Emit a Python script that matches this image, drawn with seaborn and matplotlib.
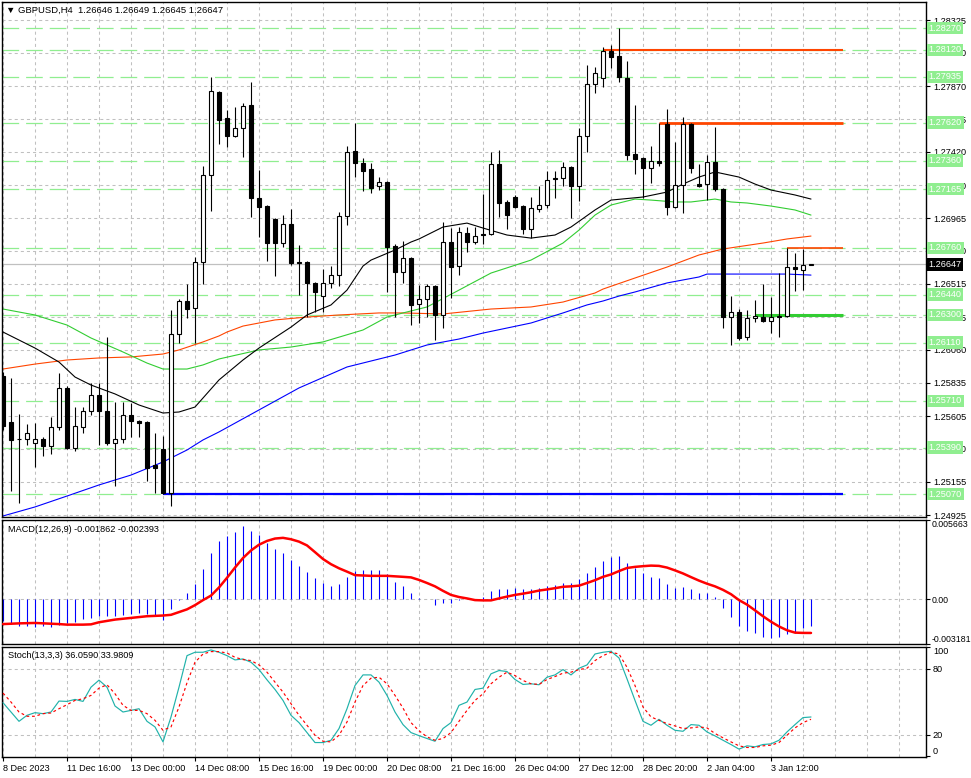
import numpy as np
import pandas as pd
import matplotlib
matplotlib.use("Agg")
import matplotlib.pyplot as plt
import matplotlib.transforms as mtransforms
import seaborn as sns

# ---------------- data ----------------
open_ = [1.25881,1.25565,1.25449,1.25449,1.25421,1.25449,1.25401,1.25531,1.25799,1.25387,
         1.25531,1.25641,1.25751,1.25641,1.25421,1.25449,1.25613,1.25572,1.25565,1.25270,
         1.25380,1.25075,1.26169,1.26396,1.26348,1.26664,1.27261,1.27831,1.27652,1.27529,
         1.27584,1.27741,1.27103,1.27048,1.26959,1.26794,1.26925,1.26664,1.26664,1.26520,
         1.26430,1.26520,1.26574,1.26979,1.27426,1.27343,1.27302,1.27185,1.27213,1.26774,
         1.26595,1.26691,1.26375,1.26410,1.26499,1.26300,1.26801,1.26636,1.26863,1.26801,
         1.26856,1.26856,1.27336,1.27076,1.27110,1.27048,1.26890,1.27028,1.27055,1.27240,
         1.27240,1.27316,1.27185,1.27529,1.27886,1.27927,1.28112,1.28078,1.27927,1.27405,
         1.27378,1.27309,1.27357,1.27611,1.27041,1.27192,1.27611,1.27199,1.27199,1.27350,
         1.27165,1.26286,1.26320,1.26149,1.26279,1.26286,1.26259,1.26286,1.26293,1.26629,
         1.26609,1.26646]
high_ = [1.25909,1.25867,1.25620,1.25552,1.25559,1.25462,1.25600,1.25904,1.25812,1.25668,
         1.25668,1.25833,1.25833,1.26149,1.25703,1.25703,1.25696,1.25579,1.25570,1.25490,
         1.25469,1.26334,1.26410,1.26513,1.26698,1.27323,1.27934,1.27838,1.27707,1.27728,
         1.27755,1.27899,1.27295,1.27055,1.26965,1.26986,1.27028,1.26780,1.26670,1.26525,
         1.26616,1.26636,1.27007,1.27460,1.27618,1.27378,1.27343,1.27247,1.27220,1.26787,
         1.26808,1.26698,1.26506,1.26513,1.26505,1.26938,1.26897,1.26904,1.26904,1.26904,
         1.27131,1.27419,1.27433,1.27089,1.27124,1.27055,1.27110,1.27185,1.27288,1.27288,
         1.27350,1.27322,1.27584,1.28016,1.28002,1.28140,1.28153,1.28270,1.28044,1.27741,
         1.27385,1.27460,1.27618,1.27714,1.27488,1.27659,1.27620,1.27336,1.27398,1.27590,
         1.27172,1.26430,1.26341,1.26334,1.26403,1.26513,1.26423,1.26588,1.26760,1.26726,
         1.26753,1.26649]
low_ = [1.25510,1.25092,1.25009,1.25407,1.25256,1.25332,1.25346,1.25510,1.25380,1.25366,
        1.25490,1.25613,1.25407,1.25410,1.25126,1.25421,1.25462,1.25462,1.25160,1.25078,
        1.25070,1.24989,1.26108,1.26279,1.26108,1.26513,1.27014,1.27474,1.27453,1.27522,
        1.27385,1.26973,1.26835,1.26671,1.26568,1.26767,1.26643,1.26437,1.26286,1.26320,
        1.26320,1.26485,1.26499,1.26918,1.27247,1.27151,1.27137,1.27158,1.26458,1.26286,
        1.26520,1.26231,1.26245,1.26286,1.26128,1.26211,1.26417,1.26574,1.26732,1.26787,
        1.26787,1.26850,1.26973,1.26890,1.27035,1.26856,1.26828,1.27007,1.27034,1.27103,
        1.27185,1.26966,1.27082,1.27419,1.27824,1.27865,1.27996,1.27899,1.27364,1.27268,
        1.27103,1.27206,1.27323,1.26986,1.27034,1.27000,1.27275,1.27180,1.27089,1.27151,
        1.26211,1.26094,1.26128,1.26128,1.26252,1.26255,1.26176,1.26149,1.26286,1.26467,
        1.26474,1.26645]
close_ = [1.25538,1.25442,1.25447,1.25490,1.25449,1.25401,1.25531,1.25799,1.25387,1.25538,
          1.25641,1.25751,1.25641,1.25421,1.25449,1.25613,1.25572,1.25558,1.25250,1.25250,
          1.25075,1.26169,1.26396,1.26341,1.26664,1.27261,1.27838,1.27639,1.27529,1.27584,
          1.27735,1.27103,1.27041,1.26794,1.26794,1.26925,1.26657,1.26657,1.26520,1.26458,
          1.26520,1.26574,1.26979,1.27419,1.27343,1.27288,1.27172,1.27213,1.26767,1.26595,
          1.26691,1.26369,1.26410,1.26499,1.26300,1.26801,1.26629,1.26870,1.26801,1.26842,
          1.26849,1.27336,1.27069,1.26986,1.27041,1.26890,1.27034,1.27055,1.27227,1.27233,
          1.27316,1.27185,1.27529,1.27886,1.27961,1.28112,1.28071,1.27934,1.27398,1.27371,
          1.27309,1.27357,1.27343,1.27041,1.27192,1.27611,1.27309,1.27185,1.27350,1.27165,
          1.26286,1.26320,1.26142,1.26279,1.26293,1.26259,1.26286,1.26293,1.26629,1.26616,
          1.26643,1.26647]

ma_black_idx = [0,4,7,9,11,14,17,20,22,24,25,27,30,32,36,38,41,43,45,46,49,51,52,55,58,60,63,66,69,71,74,76,80,83,85,87,89,92,94,96,99,101]
ma_black = [1.26183,1.26073,1.25977,1.25874,1.25819,1.25758,1.25682,1.25627,1.25634,1.25668,
            1.25730,1.25854,1.25991,1.26073,1.26217,1.26300,1.26369,1.26471,1.26636,1.26677,
            1.26746,1.26801,1.26822,1.26904,1.26931,1.26897,1.26849,1.26828,1.26849,1.26904,
            1.27021,1.27089,1.27110,1.27144,1.27199,1.27247,1.27282,1.27247,1.27199,1.27158,
            1.27124,1.27096]
ma_green_idx = [0,4,8,11,15,18,20,23,25,27,32,36,40,45,48,50,53,57,61,66,70,72,74,76,79,81,84,86,89,91,93,96,99,101]
ma_green = [1.26341,1.26300,1.26231,1.26142,1.26046,1.25970,1.25929,1.25929,1.25957,1.25998,
            1.26060,1.26080,1.26115,1.26197,1.26286,1.26314,1.26355,1.26471,1.26588,1.26677,
            1.26794,1.26883,1.26986,1.27055,1.27096,1.27089,1.27076,1.27076,1.27096,1.27076,
            1.27069,1.27048,1.27021,1.26986]
ma_orange_idx = [0,4,8,12,16,20,22,25,27,28,30,34,38,42,47,50,55,61,66,70,74,75,79,83,87,90,95,98,101]
ma_orange = [1.25929,1.25963,1.25991,1.26005,1.26012,1.26032,1.26060,1.26115,1.26156,1.26183,
             1.26224,1.26266,1.26286,1.26300,1.26314,1.26314,1.26307,1.26341,1.26355,1.26389,
             1.26451,1.26478,1.26554,1.26629,1.26712,1.26753,1.26794,1.26822,1.26842]
ma_blue_idx = [0,4,8,12,16,20,23,25,27,32,37,43,49,53,57,60,66,70,73,75,77,79,83,87,88,91,95,98,101]
ma_blue = [1.24920,1.24982,1.25057,1.25133,1.25201,1.25291,1.25373,1.25442,1.25497,1.25648,
           1.25799,1.25943,1.26025,1.26094,1.26135,1.26176,1.26245,1.26314,1.26369,1.26396,
           1.26430,1.26458,1.26520,1.26561,1.26581,1.26581,1.26581,1.26581,1.26574]

# horizontal levels (light green dashed) with their price tags
level_prices = [1.28270,1.28120,1.27935,1.27620,1.27360,1.27165,1.26760,1.26440,1.26300,1.26110,1.25710,1.25390,1.25070]
# drawn support/resistance segments
seg_prices = [1.28120, 1.27620, 1.26760, 1.26300, 1.25070]
seg_start = [75, 82, 98, 94, 20]
seg_end = 105
seg_colors = ["#ff4500", "#ff4500", "#ff4500", "#32cd32", "#0000ff"]
seg_widths = [1.5, 2.0, 1.2, 2.2, 1.6]

price_ticks = [1.24925,1.25155,1.25380,1.25605,1.25835,1.26060,1.26285,1.26515,1.26740,
               1.26965,1.27190,1.27420,1.27645,1.27870,1.28100,1.28325]
last_price = 1.26647

macd_hist = [-1.51,-1.76,-1.88,-1.88,-2.00,-1.93,-1.95,-1.83,-1.68,-1.59,
             -1.39,-1.32,-1.20,-1.15,-1.15,-1.10,-1.02,-0.95,-1.02,-1.20,
             -1.44,-0.71,-0.02,0.44,1.10,2.15,3.32,4.15,4.54,4.83,
             5.20,4.90,4.59,4.05,3.59,3.29,2.80,2.39,1.95,1.54,
             1.17,0.93,1.10,1.61,2.02,2.07,2.07,2.07,1.78,1.24,
             0.98,0.44,0.07,0.02,-0.41,-0.29,-0.29,-0.05,0.01,-0.02,
             0.15,0.61,0.76,0.76,0.80,0.76,0.76,0.80,0.93,1.05,
             1.17,1.17,1.46,1.90,2.34,2.71,3.00,3.07,2.63,2.27,
             1.90,1.61,1.54,1.10,0.80,0.88,0.73,0.44,0.44,0.20,
             -0.59,-1.22,-1.88,-2.24,-2.37,-2.68,-2.78,-2.68,-2.49,-2.37,
             -2.07,-1.862]  # x 0.001
macd_sig_idx = [0,2,4,7,8,10,11,12,14,16,18,20,21,23,24,25,26,27,28,29,
                30,31,32,33,34,35,36,37,38,39,40,41,42,43,44,46,48,50,51,52,
                53,54,55,56,57,58,59,60,61,62,63,64,65,66,67,68,69,70,71,72,
                73,74,75,76,77,78,79,80,81,82,83,84,85,86,87,88,89,90,91,92,
                93,94,95,96,97,98,99,100,101]
macd_sig = [-1.76,-1.71,-1.68,-1.76,-1.80,-1.80,-1.78,-1.63,-1.44,-1.32,
            -1.20,-1.15,-1.10,-0.71,-0.41,-0.05,0.27,0.85,1.54,2.27,
            2.95,3.49,3.90,4.17,4.34,4.39,4.29,4.12,3.85,3.37,
            2.88,2.51,2.22,1.98,1.73,1.68,1.68,1.61,1.57,1.39,
            1.17,0.93,0.61,0.32,0.17,0.07,-0.05,-0.07,-0.07,0.07,
            0.20,0.32,0.41,0.51,0.63,0.71,0.80,0.90,0.93,0.98,
            1.17,1.37,1.61,1.78,2.02,2.24,2.32,2.37,2.41,2.39,
            2.27,2.07,1.85,1.59,1.34,1.12,0.93,0.68,0.37,-0.05,
            -0.37,-0.78,-1.20,-1.59,-1.93,-2.20,-2.37,-2.39,-2.393]  # x 0.001
macd_ticks = [-0.003181, 0.0, 0.005663]
macd_tick_labels = ["-0.003181", "0.00", "0.005663"]

stoch_k = [49.1,40.6,32.1,37.6,40.0,39.1,40.6,50.6,50.3,52.1,
           50.3,63.3,69.7,63.3,46.1,40.6,42.1,43.6,32.1,27.0,
           13.3,36.1,63.3,92.1,95.2,95.2,97.3,95.2,92.1,88.2,
           89.1,86.1,79.4,70.0,61.2,51.2,37.6,30.9,21.8,12.7,
           12.7,14.8,25.5,43.6,64.8,74.5,74.5,67.9,55.8,40.6,
           29.1,21.8,19.0,16.4,13.9,25.5,30.9,46.7,49.7,61.2,
           62.4,75.5,78.5,77.6,70.3,65.8,66.4,65.5,72.4,74.5,
           79.4,74.5,80.6,83.6,93.6,95.2,96.1,90.0,70.9,51.2,
           32.1,28.5,33.9,28.5,23.9,23.0,29.1,28.5,22.4,18.8,
           14.8,10.9,6.7,9.7,8.8,10.9,11.5,14.8,22.4,29.1,
           35.5,36.059]
stoch_d = [57.9,49.7,40.6,36.7,36.7,39.1,39.7,43.6,47.3,51.2,
           52.7,55.8,62.4,65.5,57.3,46.7,42.1,42.1,39.1,33.0,
           23.9,27.0,45.2,67.3,86.1,93.6,95.8,95.8,94.5,90.6,
           88.5,87.6,83.6,77.0,67.9,58.8,48.2,37.6,28.5,19.4,
           13.9,13.3,19.4,31.5,49.7,64.8,71.5,72.4,66.4,55.8,
           44.2,30.9,23.5,17.9,14.8,16.4,21.8,32.1,42.1,51.2,
           57.3,66.4,72.4,77.0,73.9,69.4,66.4,65.8,70.3,73.0,
           76.1,77.0,79.4,80.6,87.6,92.1,95.2,93.6,81.5,64.8,
           45.2,36.1,33.0,30.0,27.9,25.5,26.1,27.0,26.1,21.0,
           17.0,13.3,9.7,8.2,8.2,9.7,10.3,12.7,19.4,26.1,
           30.9,33.981]
stoch_ticks = [0, 20, 80, 100]

date_labels = ["8 Dec 2023", "11 Dec 16:00", "13 Dec 00:00", "14 Dec 08:00", "15 Dec 16:00",
               "19 Dec 00:00", "20 Dec 08:00", "21 Dec 16:00", "26 Dec 04:00", "27 Dec 12:00",
               "28 Dec 20:00", "2 Jan 04:00", "3 Jan 12:00"]
date_label_idx = [0, 8, 16, 24, 32, 40, 48, 56, 64, 72, 80, 88, 96]

header_main = "▼ GBPUSD,H4  1.26646 1.26649 1.26645 1.26647"
header_macd = "MACD(12,26,9) -0.001862 -0.002393"
header_stoch = "Stoch(13,3,3) 36.0590 33.9809"

# ---------------- style ----------------
sns.set_style("white")
plt.rcParams["font.family"] = ["Liberation Sans", "DejaVu Sans"]
plt.rcParams["lines.scale_dashes"] = False
FS = 6.6
GRID = dict(color="#c0c0c0", lw=0.75, ls=(0, (2.2, 2.2)))

W, H = 971, 778
fig = plt.figure(figsize=(W / 100, H / 100), dpi=100)
fig.patch.set_facecolor("white")


def rect(top, bottom, left=2, right=926):
    return [left / W, 1 - bottom / H, (right - left) / W, (bottom - top) / H]


ax1 = fig.add_axes(rect(2, 517))
ax2 = fig.add_axes(rect(520, 644), sharex=ax1)
ax3 = fig.add_axes(rect(647, 757), sharex=ax1)

n = len(close_)
xs = np.arange(n)
o = np.array(open_); c = np.array(close_)
hi = np.array(high_); lo = np.array(low_)

for ax in (ax1, ax2, ax3):
    ax.set_facecolor("white")
    for s in ax.spines.values():
        s.set_color("black")
        s.set_linewidth(1.0)
    ax.set_xlim(-0.125, 115.375)
    ax.set_xticks(date_label_idx)
    ax.set_xticks(np.arange(0, 116, 4), minor=True)
    ax.xaxis.grid(True, which="both", **GRID)
    ax.set_axisbelow(True)
    ax.yaxis.tick_right()
    ax.tick_params(axis="y", which="both", right=True, left=False, direction="out",
                   length=3, width=0.8, labelsize=FS, pad=2, colors="black")
    ax.tick_params(axis="x", which="minor", length=0)

for ax in (ax1, ax2):
    ax.tick_params(axis="x", which="both", bottom=False, labelbottom=False)

# ---------------- main price panel ----------------
ax1.set_ylim(1.24913, 1.28449)
ax1.set_yticks(price_ticks)
ax1.set_yticklabels([f"{v:.5f}" for v in price_ticks])
ax1.yaxis.grid(True, **GRID)

for lv in level_prices:
    ax1.axhline(lv, color="#90ee90", lw=0.9, ls=(0, (12, 5)), zorder=1.5)
ax1.axhline(last_price, color="#c0c0c0", lw=0.9, zorder=1.6)

# moving averages via seaborn
for idx, vals, col in [(ma_blue_idx, ma_blue, "#0000ff"),
                       (ma_orange_idx, ma_orange, "#ff4500"),
                       (ma_green_idx, ma_green, "#32cd32"),
                       (ma_black_idx, ma_black, "black")]:
    sns.lineplot(x=idx, y=vals, ax=ax1, color=col, linewidth=0.8, legend=False,
                 estimator=None, zorder=2)

# segments
for p, s0, col, w in zip(seg_prices, seg_start, seg_colors, seg_widths):
    ax1.hlines(p, s0, seg_end, colors=col, lw=w, zorder=2.5)

# candles
up = c >= o
bb = np.minimum(o, c)
bh = np.abs(c - o)
ax1.vlines(xs, lo, hi, color="black", lw=0.8, zorder=3)
ax1.bar(xs[up], bh[up], bottom=bb[up], width=0.62, facecolor="white",
        edgecolor="black", linewidth=0.8, zorder=4)
ax1.bar(xs[~up], bh[~up], bottom=bb[~up], width=0.62, facecolor="black",
        edgecolor="black", linewidth=0.8, zorder=4)

# price tags
tr = mtransforms.blended_transform_factory(ax1.transAxes, ax1.transData)
xt = 1 + 2.5 / 924
for lv in level_prices:
    ax1.text(xt, lv, f"{lv:.5f}", transform=tr, ha="left", va="center", fontsize=FS,
             color="white", clip_on=False, zorder=20,
             bbox=dict(boxstyle="square,pad=0.2", fc="#90ee90", ec="none"))
ax1.text(xt, last_price, f"{last_price:.5f}", transform=tr, ha="left", va="center",
         fontsize=FS, color="white", clip_on=False, zorder=21,
         bbox=dict(boxstyle="square,pad=0.2", fc="black", ec="none"))

ax1.text(4 / 924, (517 - 10) / 515, header_main, transform=ax1.transAxes, ha="left",
         va="center", fontsize=FS + 0.2, color="black", zorder=20)
ax1.set_xlabel(""); ax1.set_ylabel("")

# ---------------- MACD panel ----------------
ax2.set_ylim(-0.003181, 0.005663)
ax2.axhline(0, **GRID, zorder=0.5)
ax2.bar(xs, np.array(macd_hist) / 1000.0, width=0.1, color="#0000ff",
        edgecolor="#0000ff", linewidth=0.8, zorder=2)
sns.lineplot(x=macd_sig_idx, y=np.array(macd_sig) / 1000.0, ax=ax2, color="#ff0000",
             linewidth=1.8, legend=False, estimator=None, zorder=3)
ax2.set_yticks(macd_ticks)
ax2.set_yticklabels(macd_tick_labels)
ax2.tick_params(axis="y", labelsize=6.3, pad=1)
tl = ax2.get_yticklabels()
tl[0].set_va("bottom"); tl[2].set_va("top")
ax2.text(6 / 924, (644 - 530) / 124, header_macd, transform=ax2.transAxes, ha="left",
         va="center", fontsize=FS, color="black", zorder=20)
ax2.set_xlabel(""); ax2.set_ylabel("")

# ---------------- Stochastic panel ----------------
ax3.set_ylim(-0.5, 99.5)
ax3.axhline(20, **GRID, zorder=0.5)
ax3.axhline(80, **GRID, zorder=0.5)
sns.lineplot(x=xs, y=stoch_k, ax=ax3, color="#20b2aa", linewidth=0.85, legend=False,
             estimator=None, zorder=3)
sns.lineplot(x=xs, y=stoch_d, ax=ax3, color="#ff0000", linewidth=0.85,
             linestyle=(0, (2.0, 2.0)), legend=False, estimator=None, zorder=3)
ax3.set_yticks(stoch_ticks)
ax3.set_yticklabels([str(v) for v in stoch_ticks])
tl = ax3.get_yticklabels()
tl[0].set_va("bottom"); tl[3].set_va("top")
ax3.text(6 / 924, (757 - 655) / 110, header_stoch, transform=ax3.transAxes, ha="left",
         va="center", fontsize=FS, color="black", zorder=20)
ax3.set_xticks(date_label_idx)
ax3.set_xticklabels(date_labels)
for lab in ax3.get_xticklabels():
    lab.set_ha("left")
ax3.tick_params(axis="x", which="major", bottom=True, direction="out", length=3,
                width=0.8, labelsize=FS, pad=2, colors="black")
ax3.set_xlabel(""); ax3.set_ylabel("")

fig.savefig("out.png", dpi=100, facecolor="white")
